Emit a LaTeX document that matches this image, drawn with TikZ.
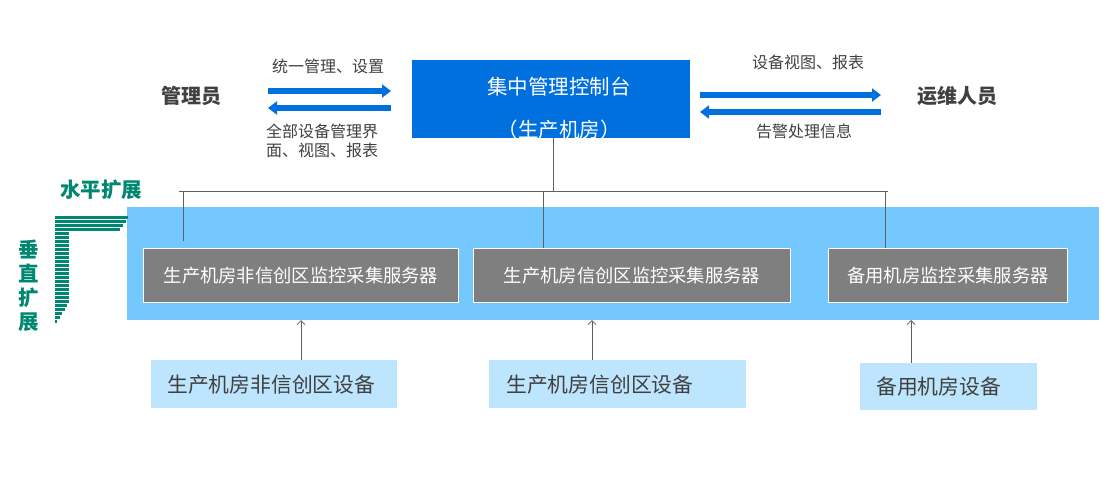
\documentclass[tikz,border=0pt]{standalone}
\usepackage{fontspec}
\setmainfont{Noto Sans CJK SC}
\usetikzlibrary{arrows.meta}
\definecolor{panelblue}{HTML}{74C8FE}
\definecolor{devblue}{HTML}{BDE5FD}
\definecolor{mainblue}{HTML}{0070DF}
\definecolor{srvgray}{HTML}{7F7F7F}
\definecolor{txtgray}{HTML}{404040}
\definecolor{linegray}{HTML}{606060}
\definecolor{stripegreen}{HTML}{00876F}
\begin{document}
\begin{tikzpicture}[x=1pt,y=-1pt,
  server/.style={draw=white,line width=1pt,fill=srvgray,text=white,anchor=north west,inner sep=0pt,font=\fontsize{18.3}{21}\selectfont},
  device/.style={fill=devblue,anchor=north west,inner sep=0pt},
  devtext/.style={text=txtgray,anchor=west,inner sep=0pt,font=\fontsize{20.8}{24}\selectfont},
  lbl/.style={text=txtgray,inner sep=0pt,font=\fontsize{16}{19.5}\selectfont},
  actor/.style={text=txtgray,inner sep=0pt,font=\bfseries\fontsize{20}{24}\selectfont},
  green/.style={text=stripegreen,inner sep=0pt,font=\bfseries\fontsize{20.5}{24}\selectfont},
  bigarrow/.style={draw=mainblue,line width=6pt,-{Triangle[length=9pt,width=13pt]}},
  conn/.style={draw=linegray,line width=0.8pt},
  uparrow/.style={draw=linegray,line width=0.8pt,-{Straight Barb[length=4pt,width=8pt]}}
]
\useasboundingbox (0,0) rectangle (1109,480);

% panel
\fill[panelblue] (127,207) rectangle (1099,320);

% central console
\node[fill=mainblue,anchor=north west,minimum width=278pt,minimum height=78pt,inner sep=0pt] (center) at (412,60) {};
\node[text=white,inner sep=0pt,font=\fontsize{20.5}{24}\selectfont] (ct1) at (559,87) {集中管理控制台};
\node[text=white,inner sep=0pt,font=\fontsize{20.5}{24}\selectfont] (ct2) at (559,130) {（生产机房）};

% actors
\node[actor] (admin) at (191,96) {管理员};
\node[actor] (ops) at (957,96) {运维人员};

% blue arrows left
\coordinate (la1) at (268,91); \coordinate (la2) at (391,91);
\coordinate (lb1) at (391,108); \coordinate (lb2) at (268,108);
\draw[bigarrow] (la1) -- (la2);
\draw[bigarrow] (lb1) -- (lb2);
\node[lbl] (l1) at (328,66) {统一管理、设置};
\node[lbl,anchor=west,align=left] (l2) at (266,141) {全部设备管理界\\面、视图、报表};

% blue arrows right
\coordinate (ra1) at (700,95); \coordinate (ra2) at (881,95);
\coordinate (rb1) at (881,112); \coordinate (rb2) at (700,112);
\draw[bigarrow] (ra1) -- (ra2);
\draw[bigarrow] (rb1) -- (rb2);
\node[lbl] (r1) at (808,62) {设备视图、报表};
\node[lbl] (r2) at (804,131) {告警处理信息};

% servers
\node[server,minimum width=315pt,minimum height=54pt] (s1) at (143,248) {生产机房非信创区监控采集服务器};
\node[server,minimum width=317pt,minimum height=54pt] (s2) at (473,248) {生产机房信创区监控采集服务器};
\node[server,minimum width=239pt,minimum height=54pt] (s3) at (828,248) {备用机房监控采集服务器};

% bus
\coordinate (busL) at (179,191);
\coordinate (busR) at (888,191);
\coordinate (busC) at (553,191);
\coordinate (b1) at (183,191); \coordinate (b1e) at (183,241);
\coordinate (b2) at (543,191);
\coordinate (b3) at (885,191);
\draw[conn] (busL) -- (busR);
\draw[conn] (center.south -| busC) -- (busC);
\draw[conn] (b1) -- (b1e);
\draw[conn] (b2) -- (b2 |- s2.north);
\draw[conn] (b3) -- (b3 |- s3.north);

% devices
\node[device,minimum width=246pt,minimum height=48pt] (d1) at (151,360) {};
\node[device,minimum width=257pt,minimum height=48pt] (d2) at (489,360) {};
\node[device,minimum width=177pt,minimum height=47pt] (d3) at (860,363) {};
\node[devtext] (t1) at ([xshift=16pt]d1.west) {生产机房非信创区设备};
\node[devtext] (t2) at ([xshift=17pt]d2.west) {生产机房信创区设备};
\node[devtext] (t3) at ([xshift=16pt]d3.west) {备用机房设备};

\coordinate (p1) at (301,320); \coordinate (p2) at (592,320); \coordinate (p3) at (911,320);
\draw[uparrow] (d1.north -| p1) -- (p1);
\draw[uparrow] (d2.north -| p2) -- (p2);
\draw[uparrow] (d3.north -| p3) -- (p3);

% scaling labels
\node[green] (hs) at (101,190) {水平扩展};
\node[green] (v1) at (29,249) {垂};
\node[green] (v2) at (29,273) {直};
\node[green] (v3) at (29,298) {扩};
\node[green] (v4) at (29,322) {展};

% stripes
\foreach \e [count=\i from 0] in {128.3,126,122.7,120,68.5,68.5,68.5,68.5,68.5,68.5,68.5,68.5,68.5,68.5,68.5,68.5,68.5,68.5,68.5,68.5,68.5,68.5,67,65,62,59.7,56.7}{
  \fill[stripegreen] (55,{216.2+4.01*\i}) rectangle (\e,{218.8+4.01*\i});
}
\end{tikzpicture}
\end{document}
